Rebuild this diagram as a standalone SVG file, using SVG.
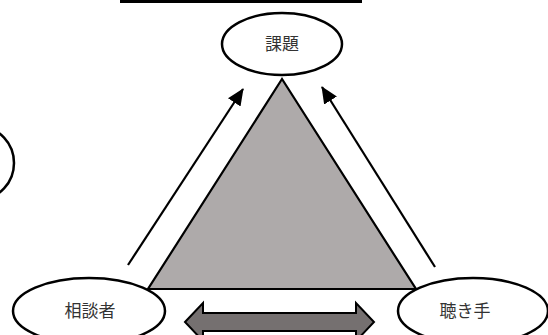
<svg xmlns="http://www.w3.org/2000/svg" width="548" height="335" viewBox="0 0 548 335">
<style>
.node{fill:#fff;stroke:#000;stroke-width:2.5}
.lbl{font-family:"Noto Sans CJK JP","Noto Sans CJK SC",sans-serif;font-size:17px;font-weight:400;fill:#333;text-anchor:middle}
.conn{stroke:#000;stroke-width:2.2;fill:none}
</style>
<defs>
<marker id="ah" markerUnits="userSpaceOnUse" markerWidth="17" markerHeight="15" refX="16" refY="7.5" orient="auto">
<path d="M0,0 L17,7.5 L0,15 Z" fill="#000"/>
</marker>
</defs>
<rect x="0" y="0" width="548" height="335" fill="#fff"/>
<rect x="120" y="0" width="242" height="3" fill="#000"/>
<polygon id="triangle" points="282,79 148,289 416,289" fill="#aeaaaa" stroke="#000" stroke-width="2.2" stroke-linejoin="miter"/>
<g id="connectors">
<line class="conn" x1="128" y1="265" x2="243" y2="89" marker-end="url(#ah)"/>
<line class="conn" x1="435" y1="267" x2="322" y2="87" marker-end="url(#ah)"/>
<polygon points="185,322 203,303 203,313 356,313 356,303 374,322 356,341 356,331 203,331 203,341" fill="#757070" stroke="#000" stroke-width="2"/>
</g>
<g id="node-kadai">
<ellipse class="node" cx="282" cy="44" rx="60" ry="31"/>
<text class="lbl" x="282" y="50">課題</text>
</g>
<g id="node-left">
<ellipse class="node" cx="-20" cy="163" rx="34" ry="36"/>
</g>
<g id="node-soudansha">
<ellipse class="node" cx="89" cy="311" rx="76" ry="33"/>
<text class="lbl" x="90" y="317">相談者</text>
</g>
<g id="node-kikite">
<ellipse class="node" cx="473" cy="311" rx="75" ry="33"/>
<text class="lbl" x="465" y="317">聴き手</text>
</g>
</svg>
